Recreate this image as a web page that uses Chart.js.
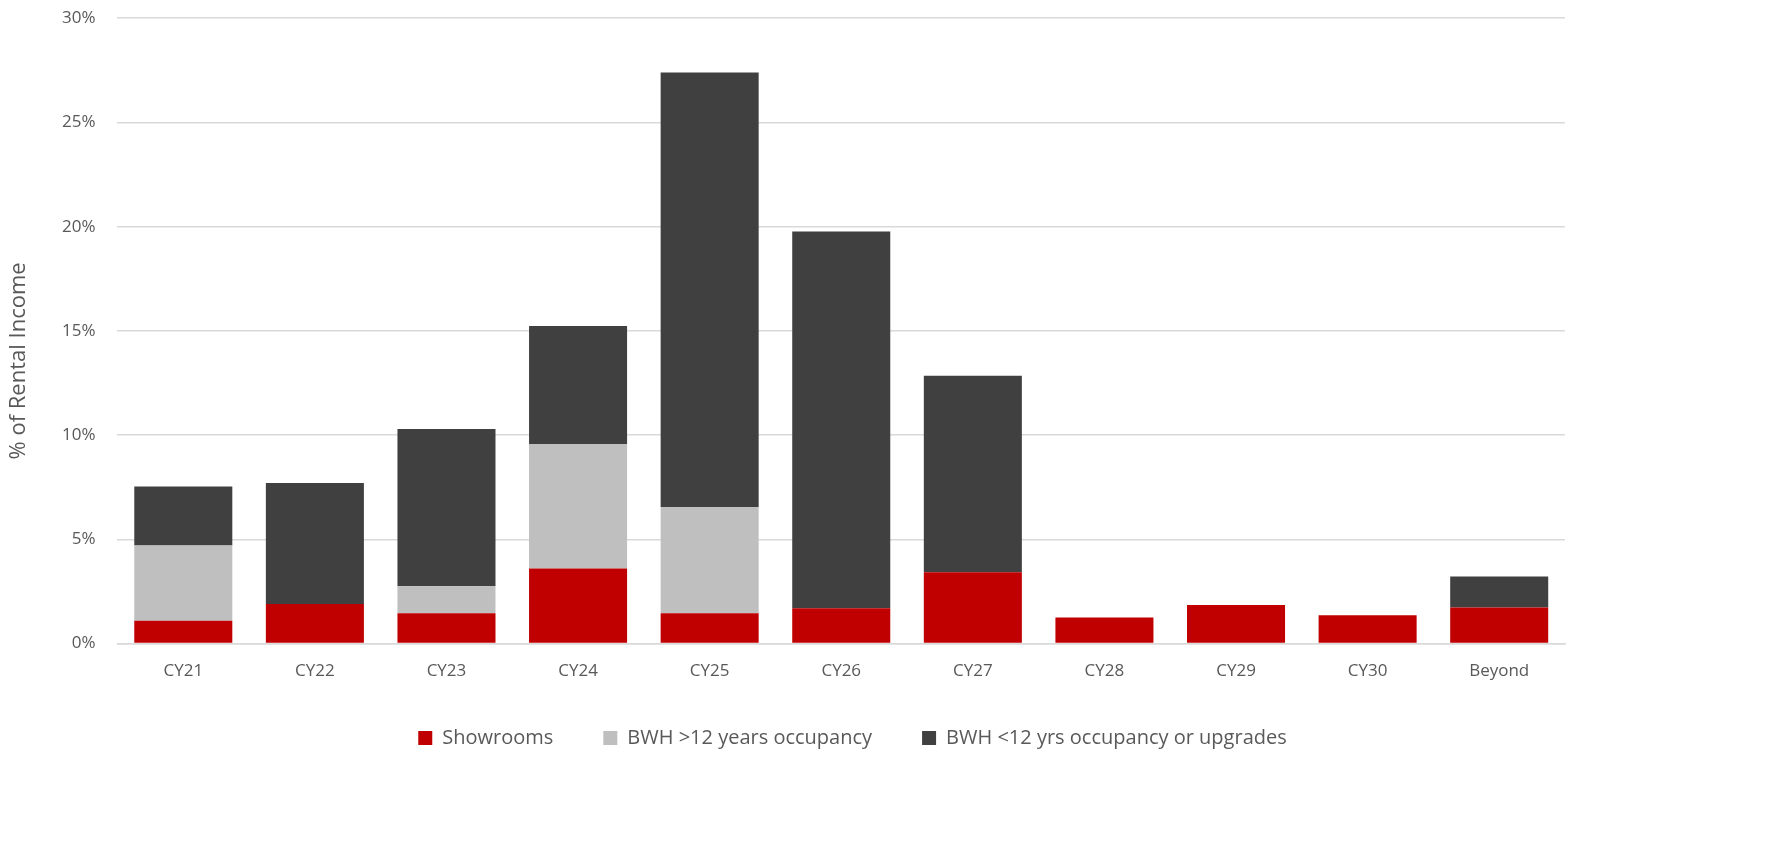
<!DOCTYPE html>
<html lang="en">
<head>
  <meta charset="UTF-8">
  <title>Lease expiry profile</title>
  <script src="https://cdn.jsdelivr.net/npm/chart.js"></script>
  <style>
    html, body {
      margin: 0;
      padding: 0;
      background: #ffffff;
    }
    .chart-container {
      position: relative;
      width: 1767px;
      height: 844px;
    }
  </style>
</head>
<body>
  <div class="chart-container">
    <canvas id="expiry-chart"></canvas>
  </div>

  <script>
    // categories and values (% of rental income)
    const years = ['CY21', 'CY22', 'CY23', 'CY24', 'CY25', 'CY26', 'CY27', 'CY28', 'CY29', 'CY30', 'Beyond'];
    const showrooms = [1.1, 1.9, 1.45, 3.6, 1.45, 1.7, 3.42, 1.25, 1.85, 1.36, 1.73];
    const bwhOver12 = [3.6, 0, 1.3, 5.97, 5.1, 0, 0, 0, 0, 0, 0];
    const bwhUnder12 = [2.83, 5.8, 7.55, 5.66, 20.84, 18.07, 9.43, 0, 0, 0, 1.49];
    const yTicks = [0, 5, 10, 15, 20, 25, 30];
    const yTitleText = '% of Rental Income';

    const textColor = '#595959';
    const fontFamily = "'Open Sans', 'Liberation Sans', sans-serif";

    // Excel puts the legend centred on the whole page and the axis title a bit low
    const legendShift = {
      id: 'legendShift',
      afterLayout(chart) {
        const lg = chart.legend;
        lg.left += 43;
        lg.right += 43;
        lg.top -= 12;
        lg.bottom -= 12;
      }
    };

    const yAxisTitle = {
      id: 'yAxisTitle',
      afterDraw(chart) {
        const { ctx, chartArea } = chart;
        ctx.save();
        ctx.translate(19, (chartArea.top + chartArea.bottom) / 2 + 30);
        ctx.rotate(-Math.PI / 2);
        ctx.font = '22px ' + fontFamily;
        ctx.fillStyle = textColor;
        ctx.textAlign = 'center';
        ctx.textBaseline = 'middle';
        ctx.fillText(yTitleText, 0, 0);
        ctx.restore();
      }
    };

    new Chart(document.getElementById('expiry-chart'), {
      type: 'bar',
      data: {
        labels: years,
        datasets: [
          {
            label: 'Showrooms',
            data: showrooms,
            backgroundColor: '#c00000',
            borderWidth: 0
          },
          {
            label: 'BWH >12 years occupancy',
            data: bwhOver12,
            backgroundColor: '#bfbfbf',
            borderWidth: 0
          },
          {
            label: 'BWH <12 yrs occupancy or upgrades',
            data: bwhUnder12,
            backgroundColor: '#404040',
            borderWidth: 0
          }
        ]
      },
      plugins: [legendShift, yAxisTitle],
      options: {
        responsive: true,
        maintainAspectRatio: false,
        animation: false,
        categoryPercentage: 0.745,
        barPercentage: 1.0,
        layout: {
          padding: { left: 54, right: 202, top: 0, bottom: 74 }
        },
        plugins: {
          tooltip: { enabled: false },
          legend: {
            position: 'bottom',
            labels: {
              color: textColor,
              font: { family: fontFamily, size: 20 },
              boxWidth: 14,
              boxHeight: 14,
              padding: 50
            }
          }
        },
        scales: {
          x: {
            stacked: true,
            grid: { display: false },
            border: { display: true, color: '#d9d9d9', width: 1.5 },
            ticks: {
              color: textColor,
              font: { family: fontFamily, size: 17 },
              padding: 9
            }
          },
          y: {
            stacked: true,
            min: 0,
            max: 30,
            afterBuildTicks: axis => {
              axis.ticks = yTicks.map(v => ({ value: v }));
            },
            grid: {
              color: '#d9d9d9',
              lineWidth: 1.5,
              drawTicks: true,
              tickLength: 14,
              tickColor: 'rgba(0,0,0,0)'
            },
            border: { display: false },
            ticks: {
              color: textColor,
              font: { family: fontFamily, size: 17 },
              padding: 8,
              callback: v => v + '%'
            }
          }
        }
      }
    });
  </script>
</body>
</html>
